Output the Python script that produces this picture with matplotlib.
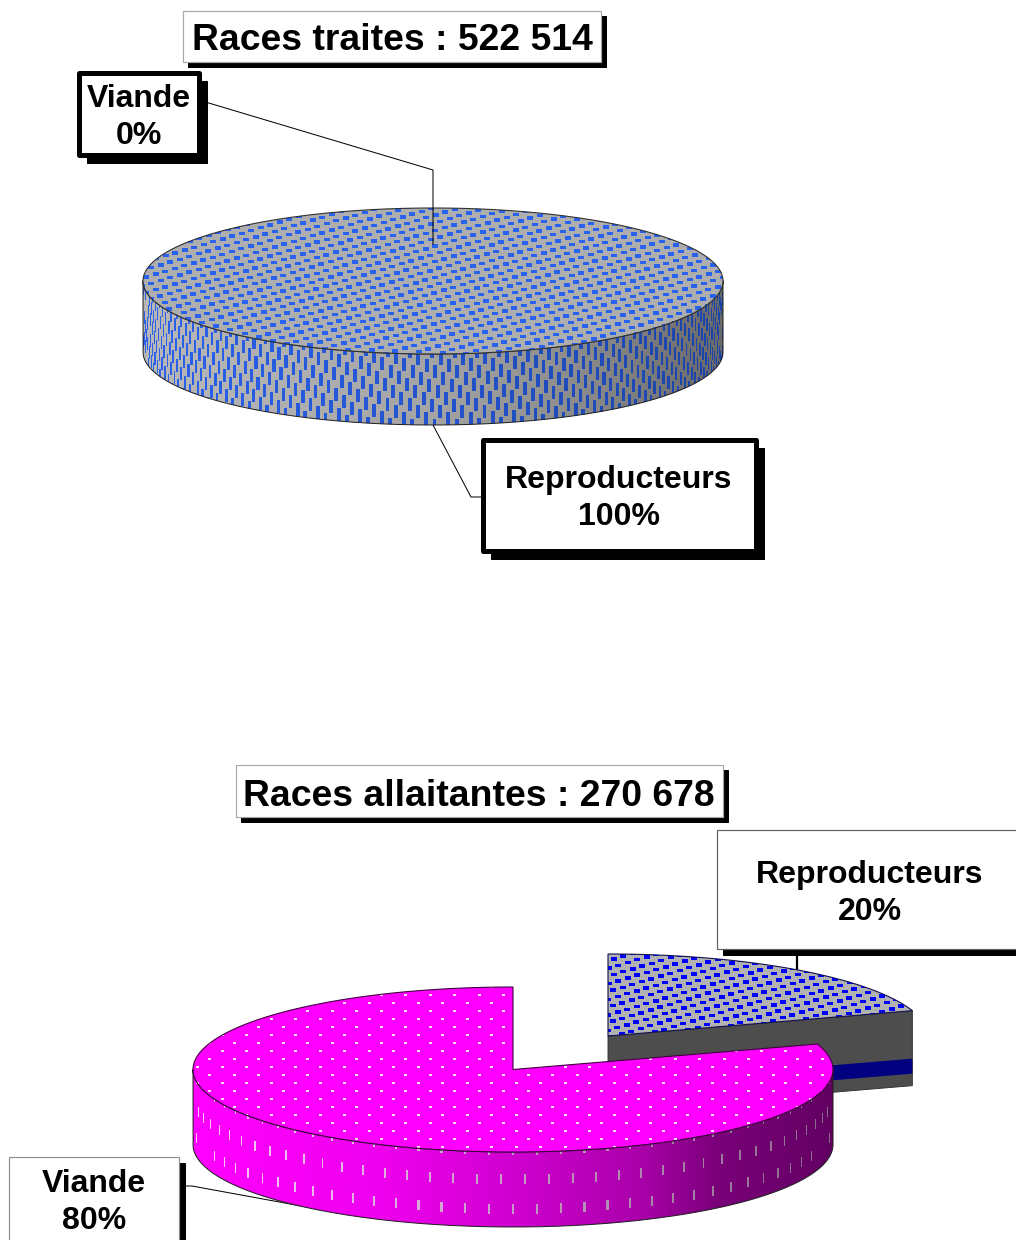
import numpy as np
import matplotlib
matplotlib.use("Agg")
import matplotlib.pyplot as plt
from matplotlib.patches import Polygon, Rectangle
from matplotlib.collections import PolyCollection
from matplotlib.colors import LinearSegmentedColormap, to_rgb

plt.rcParams['font.family'] = ['Liberation Sans', 'DejaVu Sans']

# ---- data -------------------------------------------------------------
categories = ["Reproducteurs", "Viande"]
traites_pct = [100, 0]
allaitantes_pct = [20, 80]
title_traites = "Races traites : 522 514"
title_allaitantes = "Races allaitantes : 270 678"

# ---- canvas in pixel units ---------------------------------------------
W, H = 1016, 1240
fig = plt.figure(figsize=(W / 100, H / 100), dpi=100)
ax = fig.add_axes([0, 0, 1, 1])
ax.set_axis_off()
PX = 0.72
z = [1]


def nz():
    z[0] += 1
    return z[0]


def arc(cx, cy, rx, ry, a0, a1, n=240):
    t = np.radians(np.linspace(a0, a1, n))
    return np.column_stack([cx + rx * np.sin(t), cy - ry * np.cos(t)])


def slice_angles(pcts):
    edges = np.cumsum([0] + list(pcts)) * 3.6
    return list(zip(edges[:-1], edges[1:]))


def bricks(x0, x1, y0, y1, a, b, w, h, phase=(0, 0)):
    out = []
    n = int(max(x1 - x0, y1 - y0) / min(abs(b[0]) + 1, abs(b[1]) + 1)) + 60
    for i in range(-n, n):
        for j in range(-n, n):
            x = phase[0] + x0 + i * a[0] + j * b[0]
            y = phase[1] + y0 + i * a[1] + j * b[1]
            if x0 - w <= x <= x1 + w and y0 - h <= y <= y1 + h:
                out.append([(x - w / 2, y - h / 2), (x + w / 2, y - h / 2),
                            (x + w / 2, y + h / 2), (x - w / 2, y + h / 2)])
    return out


def top_face(cx, cy, rx, ry, a0, a1, base, tex, a, b, w, h, phase=(0, 0), edge='#303030'):
    pts = arc(cx, cy, rx, ry, a0, a1)
    if a1 - a0 < 360:
        pts = np.vstack([[cx, cy], pts])
    poly = Polygon(pts, closed=True, facecolor=base, edgecolor='none', zorder=nz())
    ax.add_patch(poly)
    rects = bricks(cx - rx, cx + rx, cy - ry, cy + ry, a, b, w, h, phase)
    pc = PolyCollection(rects, facecolors=tex, edgecolors='none', zorder=nz())
    ax.add_collection(pc)
    pc.set_clip_path(poly)
    ax.add_patch(Polygon(pts, closed=True, facecolor='none', edgecolor=edge,
                         linewidth=1.1 * PX, zorder=nz()))


def front_wall(cx, cy, rx, ry, depth, a0, a1, stops, tex_fn, lattice, w, h, phase=(0, 0)):
    lo, hi = max(a0, 90), min(a1, 270)
    upper = arc(cx, cy, rx, ry, lo, hi)
    lower = upper + [0, depth]
    pts = np.vstack([upper, lower[::-1]])
    poly = Polygon(pts, closed=True, facecolor='none', edgecolor='none', zorder=nz())
    ax.add_patch(poly)
    cmap = LinearSegmentedColormap.from_list('w', stops)
    grad = np.linspace(0, 1, 512)[None, :]
    im = ax.imshow(grad, extent=(cx - rx, cx + rx, cy + ry + depth, cy - ry), aspect='auto',
                   cmap=cmap, vmin=0, vmax=1, interpolation='bilinear', zorder=nz())
    im.set_clip_path(poly)
    # dashes are laid out along the unrolled wall, then wrapped on to the ellipse
    a, b = lattice
    rects, cols = [], []
    us = rx * np.radians(np.array([lo, hi]) - 180)
    n = 200
    for i in range(-n, n):
        for j in range(-n, n):
            u = phase[0] + i * a[0] + j * b[0]
            v = phase[1] + i * a[1] + j * b[1]
            if not (us[0] - 8 < u < us[1] + 8 and -h < v < depth + h):
                continue
            t0, t1 = np.pi - (u - w / 2) / rx, np.pi - (u + w / 2) / rx
            xs = cx + rx * np.sin(np.array([t0, t1]))
            ym = cy - ry * np.cos(np.pi - u / rx)
            rects.append([(xs[0], ym + v - h / 2), (xs[1], ym + v - h / 2),
                          (xs[1], ym + v + h / 2), (xs[0], ym + v + h / 2)])
            cols.append(tex_fn((xs.mean() - (cx - rx)) / (2 * rx)))
    pc = PolyCollection(rects, facecolors=cols, edgecolors='none', zorder=nz())
    ax.add_collection(pc)
    pc.set_clip_path(poly)
    outline = np.vstack([upper, lower[::-1], upper[:1]])
    ax.plot(outline[:, 0], outline[:, 1], color='#202020', lw=1.0 * PX, zorder=nz())


def box(l, t, r, b, border=0, edge='#a8a8a8', shadow=5):
    ax.add_patch(Rectangle((l + shadow, t + shadow), r - l, b - t, facecolor='black',
                           edgecolor='black', lw=1 * PX, zorder=nz()))
    if border:
        ax.add_patch(Rectangle((l, t), r - l, b - t, facecolor='white', edgecolor='black',
                               lw=border * PX, joinstyle='round', zorder=nz()))
    else:
        ax.add_patch(Rectangle((l, t), r - l, b - t, facecolor='white', edgecolor=edge,
                               lw=1.2 * PX, zorder=nz()))


def label(x, y, s, size=23):
    ax.text(x, y + 3, s, ha='center', va='center', fontsize=size, fontweight='bold',
            color='black', zorder=nz())


def leader(xs, ys, lw=1.0):
    ax.plot(xs, ys, color='black', lw=lw * PX, zorder=nz(), solid_capstyle='butt')


# ---- gradients / wall dash colours ---------------------------------------
grey_stops = ['#b8b8b8', '#b0b0b0', '#a4a4a4', '#8c8c8c', '#6a6a6a']
mag_stops = [(0, '#ff00ff'), (0.3, '#ee00ee'), (0.52, '#cc00cc'), (0.7, '#aa00aa'),
             (0.82, '#7a007a'), (1, '#620062')]


def blue_dash(f):
    c0, c1 = np.array(to_rgb('#2a62f0')), np.array(to_rgb('#1c44a8'))
    return tuple(c0 + (c1 - c0) * f)


def pale_dash(f):
    c0, c1 = np.array(to_rgb('#ffccff')), np.array(to_rgb('#8a6a8a'))
    return tuple(c0 + (c1 - c0) * f)


# ---- first pie : Races traites -------------------------------------------
a_rep, _ = slice_angles(traites_pct)
cx1, cy1, rx1, ry1, d1 = 433, 281, 290, 73, 71
front_wall(cx1, cy1, rx1, ry1, d1, a_rep[0], a_rep[1], grey_stops, blue_dash,
           ((8.3, 6.7), (5.7, -13.3)), 4, 13, phase=(2, 18))
top_face(cx1, cy1, rx1, ry1, a_rep[0], a_rep[1], '#aeaeae', '#2a62f0',
         (9.5, -2.8), (4.6, 6.4), 6, 3.4)
leader([202, 433, 433], [101, 170, 245])
leader([433, 471, 482], [425, 497, 497])
box(183, 11, 601, 62)
label(392, 37, title_traites, 26.9)
box(79, 73, 199, 155, border=5, shadow=8)
label(139, 96, categories[1])
label(139, 133, f"{traites_pct[1]}%")
box(482.5, 439.5, 756, 550.5, border=5, shadow=8)
label(619, 477, categories[0])
label(619, 514, f"{traites_pct[0]}%")

# ---- second pie : Races allaitantes --------------------------------------
a_rep2, a_via2 = slice_angles(allaitantes_pct)
leader([797, 797], [950, 972], lw=2.2)
bx, by, brx, bry, bd = 608, 1036, 320, 82, 75
pts = arc(bx, by, brx, bry, a_rep2[0], a_rep2[1])
end = pts[-1]
ax.add_patch(Polygon([(bx, by), tuple(end), (end[0], end[1] + bd), (bx, by + bd)], closed=True,
                     facecolor='#4d4d4d', edgecolor='#303030', lw=0.9 * PX, zorder=nz()))
ax.add_patch(Polygon([(bx, by + 48), (end[0], end[1] + 48), (end[0], end[1] + 63), (bx, by + 63)],
                     closed=True, facecolor='#000080', edgecolor='none', zorder=nz()))
top_face(bx, by, brx, bry, a_rep2[0], a_rep2[1], '#b2b2b2', '#0000ff',
         (9.5, -2.8), (4.6, 6.4), 6, 3.4, edge='#101050')
leader([185, 192, 323], [1186, 1186, 1210])
cx2, cy2, rx2, ry2, d2 = 513, 1069.5, 320, 82.5, 75
front_wall(cx2, cy2, rx2, ry2, d2, a_via2[0], a_via2[1], mag_stops, pale_dash,
           ((24, 0), (12, 29.5)), 2.3, 10, phase=(0, -2))
top_face(cx2, cy2, rx2, ry2, a_via2[0], a_via2[1], '#ff00ff', '#ffdcff',
         (24.5, 0), (12.25, 8), 3, 2, phase=(4.5, 0), edge='#400040')
box(236, 765, 723, 817)
label(479, 793, title_allaitantes, 26.9)
box(717, 830, 1030, 949, edge='#606060', shadow=6)
label(870, 872, categories[0])
label(870, 909, f"{allaitantes_pct[0]}%")
box(9, 1157, 179, 1250, edge='#909090', shadow=5.5)
label(94, 1181, categories[1])
label(94, 1218, f"{allaitantes_pct[1]}%")

ax.set_xlim(0, W)
ax.set_ylim(H, 0)
fig.savefig("out.png", dpi=100, facecolor='white')
